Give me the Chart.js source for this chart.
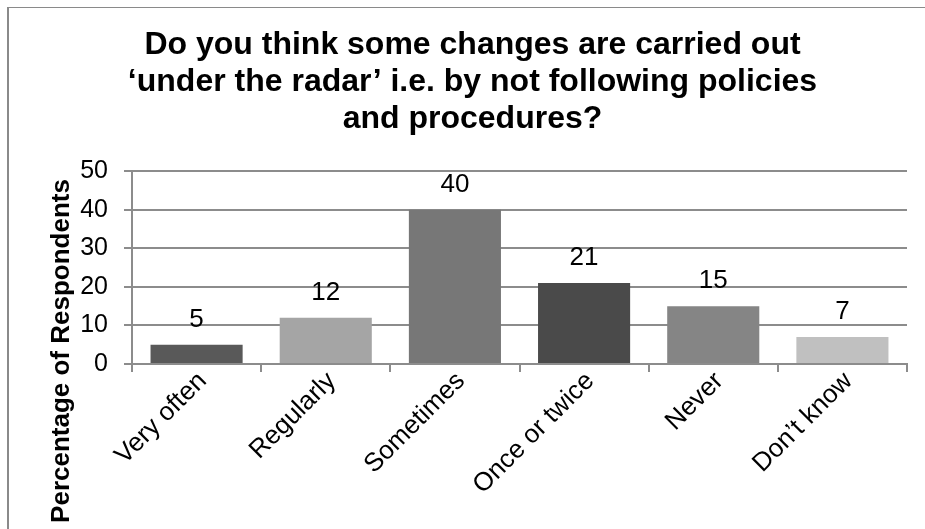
<!DOCTYPE html>
<html>
<head>
<meta charset="utf-8">
<script src="https://cdn.jsdelivr.net/npm/chart.js@4"></script>
<style>
  html, body { margin: 0; padding: 0; background: #ffffff; }
  #wrap { width: 925px; height: 529px; }
</style>
</head>
<body>
<div id="wrap"><canvas id="chart" width="925" height="529"></canvas></div>
<script>
// Survey answers and percentages
const categories = ['Very often', 'Regularly', 'Sometimes', 'Once or twice', 'Never', 'Don\u2019t know'];
const percentages = [5, 12, 40, 21, 15, 7];
const barColors = ['#595959', '#a5a5a5', '#777777', '#4a4a4a', '#858585', '#c0c0c0'];
const yTicks = [0, 10, 20, 30, 40, 50];
const titleLines = [
  'Do you think some changes are carried out',
  '\u2018under the radar\u2019 i.e. by not following policies',
  'and procedures?'
];
const yTitle = 'Percentage of Respondents';

const FONT = "'Liberation Sans', Arial, Helvetica, sans-serif";
const GRID = '#8c8c8c';

// Thin frame round the chart
const framePlugin = {
  id: 'frame',
  beforeDraw(chart) {
    const ctx = chart.ctx;
    ctx.save();
    ctx.fillStyle = '#8a8a8a';
    ctx.fillRect(7, 7, 2, chart.height - 7);
    ctx.fillRect(7, 7, chart.width - 7, 1);
    ctx.restore();
  }
};

// Value above each bar
const valueLabels = {
  id: 'valueLabels',
  afterDatasetsDraw(chart) {
    const ctx = chart.ctx;
    const meta = chart.getDatasetMeta(0);
    ctx.save();
    ctx.font = '26px ' + FONT;
    ctx.fillStyle = '#000000';
    ctx.textAlign = 'center';
    ctx.textBaseline = 'middle';
    meta.data.forEach((bar, i) => {
      ctx.fillText(String(percentages[i]), bar.x, bar.y - 25);
    });
    ctx.restore();
  }
};

// Vertical axis title, centred on the canvas height
const yTitlePlugin = {
  id: 'yTitle',
  afterDraw(chart) {
    const ctx = chart.ctx;
    ctx.save();
    ctx.translate(69, 351);
    ctx.rotate(-Math.PI / 2);
    ctx.font = 'bold 26px ' + FONT;
    ctx.fillStyle = '#000000';
    ctx.textAlign = 'center';
    ctx.textBaseline = 'alphabetic';
    ctx.fillText(yTitle, 0, 0);
    ctx.restore();
  }
};

new Chart(document.getElementById('chart'), {
  type: 'bar',
  data: {
    labels: categories,
    datasets: [{
      data: percentages,
      backgroundColor: barColors,
      borderWidth: 0,
      categoryPercentage: 1.0,
      barPercentage: 0.713
    }]
  },
  options: {
    responsive: false,
    animation: false,
    events: [],
    layout: { padding: { left: 38, right: 18, top: 0, bottom: 0 } },
    plugins: {
      legend: { display: false },
      tooltip: { enabled: false },
      title: {
        display: true,
        text: titleLines,
        color: '#000000',
        font: { family: FONT, size: 32, weight: 'bold', lineHeight: 1.147 },
        padding: { top: 27, bottom: 34 }
      }
    },
    scales: {
      x: {
        grid: {
          display: true,
          drawOnChartArea: false,
          drawTicks: true,
          tickLength: 8,
          offset: true,
          color: GRID,
          lineWidth: 2
        },
        border: { display: true, color: GRID, width: 2 },
        ticks: {
          color: '#000000',
          font: { family: FONT, size: 26 },
          maxRotation: 45,
          minRotation: 45,
          padding: -6,
          labelOffset: 6,
          autoSkip: false
        },
        afterFit(scale) { scale.height = 165; }
      },
      y: {
        min: 0,
        max: 50,
        afterBuildTicks(scale) { scale.ticks = yTicks.map(v => ({ value: v })); },
        grid: {
          color: GRID,
          lineWidth: 2,
          tickLength: 8,
          drawTicks: true
        },
        border: { display: true, color: GRID, width: 2 },
        ticks: {
          color: '#000000',
          font: { family: FONT, size: 25 },
          padding: 16
        },
        afterFit(scale) { scale.width = 94; }
      }
    }
  },
  plugins: [framePlugin, valueLabels, yTitlePlugin]
});
</script>
</body>
</html>
